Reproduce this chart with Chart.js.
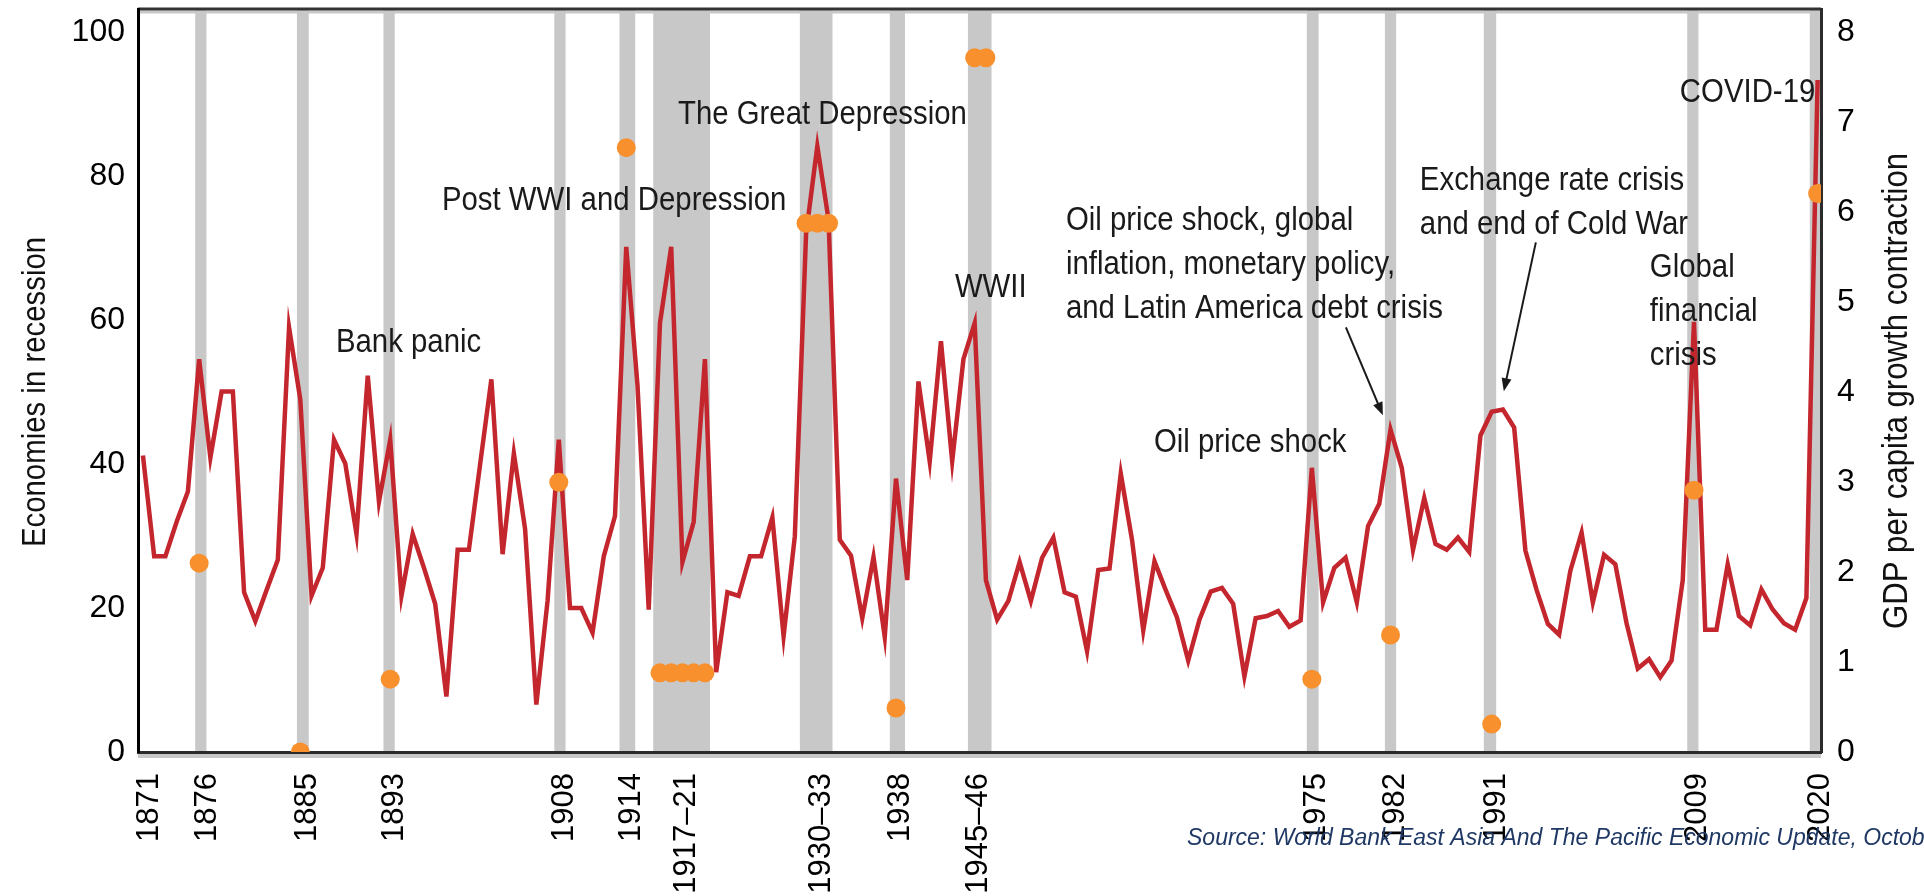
<!DOCTYPE html>
<html>
<head>
<meta charset="utf-8">
<script src="https://cdn.jsdelivr.net/npm/chart.js@4.4.1/dist/chart.umd.min.js"></script>
<style>
  html, body { margin: 0; padding: 0; background: #fff; }
  canvas { display: block; }
</style>
</head>
<body>
<canvas id="chart" width="1924" height="896"></canvas>
<script>
const FONT = '"Liberation Sans", Arial, sans-serif';

// share of economies in recession, one value a year from 1871
const firstYear = 1871;
const recession = [
  41.2, 27.2, 27.2, 32.0, 36.2, 54.6, 40.9, 50.1, 50.1, 22.2,   // 1871-1880
  18.2, 22.5, 26.7, 59.0, 49.0, 21.7, 25.6, 43.4, 40.1, 30.3,   // 1881-1890
  52.3, 34.8, 43.4, 21.7, 30.3, 25.6, 20.6, 7.7, 28.1, 28.1,    // 1891-1900
  40.0, 51.8, 27.5, 41.5, 31.0, 6.6, 21.0, 43.4, 20.0, 20.0,    // 1901-1910
  16.6, 27.2, 32.8, 70.2, 51.0, 19.8, 59.6, 70.2, 26.4, 32.0,   // 1911-1920
  54.6, 11.1, 22.2, 21.7, 27.2, 27.2, 32.6, 16.1, 30.0, 72.0,   // 1921-1930
  84.2, 74.0, 29.5, 27.3, 18.6, 27.1, 16.0, 38.0, 23.9, 51.5,   // 1931-1940
  40.4, 57.1, 40.4, 54.6, 59.6, 23.9, 18.4, 21.0, 26.4, 21.0,   // 1941-1950
  27.0, 29.8, 22.2, 21.6, 14.0, 25.3, 25.5, 38.7, 29.5, 16.9,   // 1951-1960
  26.5, 22.5, 18.7, 12.7, 18.4, 22.3, 22.8, 20.6, 10.5, 18.6,   // 1961-1970
  18.9, 19.6, 17.4, 18.3, 39.5, 20.8, 25.6, 27.0, 20.8, 31.4,   // 1971-1980
  34.5, 44.8, 39.5, 28.1, 35.3, 28.9, 28.1, 29.8, 27.8, 44.0,   // 1981-1990
  47.3, 47.6, 45.1, 28.0, 22.5, 17.8, 16.3, 25.2, 30.5, 20.8,   // 1991-2000
  27.4, 26.1, 17.9, 11.6, 12.9, 10.4, 12.7, 23.9, 59.8, 17.0,   // 2001-2010
  17.0, 26.1, 18.9, 17.6, 22.6, 19.8, 17.9, 17.0, 21.4, 93.4    // 2011-2020
];

// GDP per capita contraction in global recession years (right axis)
const dotYears  = [1876, 1885, 1893, 1908, 1914, 1917, 1918, 1919, 1920, 1921, 1930, 1931, 1932, 1938, 1945, 1946, 1975, 1982, 1991, 2009, 2020];
const dotValues = [2.1, 0, 0.81, 3.0, 6.72, 0.88, 0.88, 0.88, 0.88, 0.88, 5.88, 5.88, 5.88, 0.49, 7.72, 7.72, 0.81, 1.3, 0.31, 2.91, 6.21];

// shaded global recession periods
const bandFrom = [1875.65, 1884.7, 1892.4, 1907.6, 1913.4, 1916.4, 1929.45, 1937.45, 1944.4, 1974.55, 1981.5, 1990.3, 2008.4, 2019.3];
const bandTo   = [1876.65, 1885.75, 1893.4, 1908.6, 1914.8, 1921.45, 1932.35, 1938.8, 1946.5, 1975.6, 1982.5, 1991.4, 2009.4, 2020.4];

// x tick labels and where they sit
const tickPos    = [1871.6, 1876.7, 1885.6, 1893.4, 1908.5, 1914.5, 1919.4, 1931.4, 1938.4, 1945.3, 1975.4, 1982.4, 1991.4, 2009.3, 2020.25];
const tickLabels = ['1871', '1876', '1885', '1893', '1908', '1914', '1917–21', '1930–33', '1938', '1945–46', '1975', '1982', '1991', '2009', '2020'];
const leftTicks  = [0, 20, 40, 60, 80, 100];
const rightTicks = [0, 1, 2, 3, 4, 5, 6, 7, 8];

// annotation text, anchored at (year, left-axis value) of first baseline
const notes = [
  { lines: ['Bank panic'], x: 1888.17, y: 55.56 },
  { lines: ['Post WWI and Depression'], x: 1897.6, y: 75.28 },
  { lines: ['The Great Depression'], x: 1918.6, y: 87.22 },
  { lines: ['WWII'], x: 1943.24, y: 63.19 },
  { lines: ['Oil price shock, global', 'inflation, monetary policy,', 'and Latin America debt crisis'], x: 1953.12, y: 72.5 },
  { lines: ['Oil price shock'], x: 1960.95, y: 41.67 },
  { lines: ['Exchange rate crisis', 'and end of Cold War'], x: 1984.61, y: 78.06 },
  { lines: ['Global', 'financial', 'crisis'], x: 2005.07, y: 65.97 },
  { lines: ['COVID-19'], x: 2007.74, y: 90.28 }
];
const arrows = [
  { from: [1978.03, 59.03], to: [1981.32, 46.81] },
  { from: [1994.93, 70.83], to: [1992.08, 50.14] }
];

function squeezedText(ctx, text, x, y, sx) {
  ctx.save();
  ctx.translate(x, y);
  ctx.scale(sx, 1);
  ctx.fillText(text, 0, 0);
  ctx.restore();
}

function drawArrow(ctx, x0, y0, x1, y1) {
  const a = Math.atan2(y1 - y0, x1 - x0), len = 13, w = 5;
  ctx.beginPath();
  ctx.moveTo(x0, y0);
  ctx.lineTo(x1 - Math.cos(a) * len * 0.7, y1 - Math.sin(a) * len * 0.7);
  ctx.stroke();
  ctx.beginPath();
  ctx.moveTo(x1, y1);
  ctx.lineTo(x1 - len * Math.cos(a) + w * Math.sin(a), y1 - len * Math.sin(a) - w * Math.cos(a));
  ctx.lineTo(x1 - len * Math.cos(a) - w * Math.sin(a), y1 - len * Math.sin(a) + w * Math.cos(a));
  ctx.closePath();
  ctx.fill();
}

// keep the plot box where the reference has it
function noPad(s) {
  s.paddingTop = 0; s.paddingBottom = 0; s.paddingLeft = 0; s.paddingRight = 0;
}

const decor = {
  id: 'decor',
  beforeDraw(chart) {
    const { ctx, chartArea: a, scales: { x } } = chart;
    ctx.save();
    ctx.fillStyle = '#fff';
    ctx.fillRect(0, 0, chart.width, chart.height);
    // light grey shadow under the top and bottom frame lines
    ctx.fillStyle = '#c8c8c8';
    ctx.fillRect(a.left, a.top + 1, a.right - a.left, 3);
    ctx.fillRect(a.left, a.bottom + 1, a.right - a.left, 5);
    ctx.beginPath();
    ctx.rect(a.left, a.top, a.right - a.left, a.bottom - a.top);
    ctx.clip();
    bandFrom.forEach((f, i) => {
      const x0 = x.getPixelForValue(f), x1 = x.getPixelForValue(bandTo[i]);
      ctx.fillRect(x0, a.top, x1 - x0, a.bottom - a.top);
    });
    ctx.restore();
    ctx.fillStyle = '#333';
    ctx.fillRect(a.left, a.top - 2, a.right - a.left, 3);
  },
  afterDraw(chart) {
    const { ctx, scales: { x, y } } = chart;
    ctx.save();
    ctx.fillStyle = '#1a1a1a';
    ctx.strokeStyle = '#1a1a1a';
    ctx.lineWidth = 2;
    ctx.textBaseline = 'alphabetic';
    ctx.textAlign = 'left';
    ctx.font = '33px ' + FONT;
    notes.forEach(n => {
      const px = x.getPixelForValue(n.x), py = y.getPixelForValue(n.y);
      n.lines.forEach((t, i) => squeezedText(ctx, t, px, py + i * 44, 0.89));
    });
    arrows.forEach(ar => {
      drawArrow(ctx, x.getPixelForValue(ar.from[0]), y.getPixelForValue(ar.from[1]),
                     x.getPixelForValue(ar.to[0]), y.getPixelForValue(ar.to[1]));
    });

    // axis titles, both read bottom to top
    ctx.textAlign = 'center';
    ctx.fillStyle = '#111';
    ctx.save();
    ctx.translate(45, 392);
    ctx.rotate(-Math.PI / 2);
    ctx.font = '33px ' + FONT;
    squeezedText(ctx, 'Economies in recession', 0, 0, 0.89);
    ctx.restore();
    ctx.save();
    ctx.translate(1907, 391);
    ctx.rotate(-Math.PI / 2);
    ctx.font = '35px ' + FONT;
    squeezedText(ctx, 'GDP per capita growth contraction', 0, 0, 0.89);
    ctx.restore();

    // source line
    ctx.textAlign = 'left';
    ctx.fillStyle = '#1f3864';
    ctx.font = 'italic 23px ' + FONT;
    ctx.fillText('Source: World Bank East Asia And The Pacific Economic Update, October 2020', 1187, 845);
    ctx.restore();
  }
};

new Chart(document.getElementById('chart'), {
  type: 'line',
  data: {
    datasets: [
      {
        label: 'GDP per capita growth contraction',
        data: dotYears.map((yr, i) => ({ x: yr, y: dotValues[i] })),
        yAxisID: 'y1',
        showLine: false,
        pointRadius: 9.5,
        pointBackgroundColor: '#f7902d',
        pointBorderWidth: 0,
        order: 0
      },
      {
        label: 'Economies in recession',
        data: recession.map((v, i) => ({ x: firstYear + i, y: v })),
        yAxisID: 'y',
        borderColor: '#c4262e',
        borderWidth: 4.5,
        pointRadius: 0,
        tension: 0,
        fill: false,
        order: 1
      }
    ]
  },
  options: {
    responsive: false,
    animation: false,
    devicePixelRatio: 1,
    layout: { padding: { top: 9, left: 0, right: 0, bottom: 0 } },
    plugins: { legend: { display: false }, tooltip: { enabled: false } },
    scales: {
      x: {
        type: 'linear',
        position: 'bottom',
        min: 1870.56,
        max: 2020.3,
        grid: { display: false, drawTicks: false },
        border: { display: true, color: '#2b2b2b', width: 3 },
        afterBuildTicks: s => { s.ticks = tickPos.map(v => ({ value: v })); },
        afterFit: s => { s.height = 144; noPad(s); },
        ticks: {
          autoSkip: false,
          minRotation: 90,
          maxRotation: 90,
          padding: 21,
          color: '#000',
          font: { family: FONT, size: 31 },
          callback: (v, i) => tickLabels[i]
        }
      },
      y: {
        position: 'left',
        min: 0,
        max: 103.2,
        grid: { display: false, drawTicks: false },
        border: { display: true, color: '#000', width: 3 },
        afterBuildTicks: s => { s.ticks = leftTicks.map(v => ({ value: v })); },
        afterFit: s => { s.width = 138; noPad(s); },
        ticks: { padding: 13, color: '#000', font: { family: FONT, size: 32 } }
      },
      y1: {
        position: 'right',
        min: 0,
        max: 8.256,
        grid: { display: false, drawTicks: false },
        border: { display: true, color: '#2b2b2b', width: 3 },
        afterBuildTicks: s => { s.ticks = rightTicks.map(v => ({ value: v })); },
        afterFit: s => { s.width = 103; noPad(s); },
        ticks: { padding: 16, color: '#000', font: { family: FONT, size: 32 } }
      }
    }
  },
  plugins: [decor]
});
</script>
</body>
</html>
